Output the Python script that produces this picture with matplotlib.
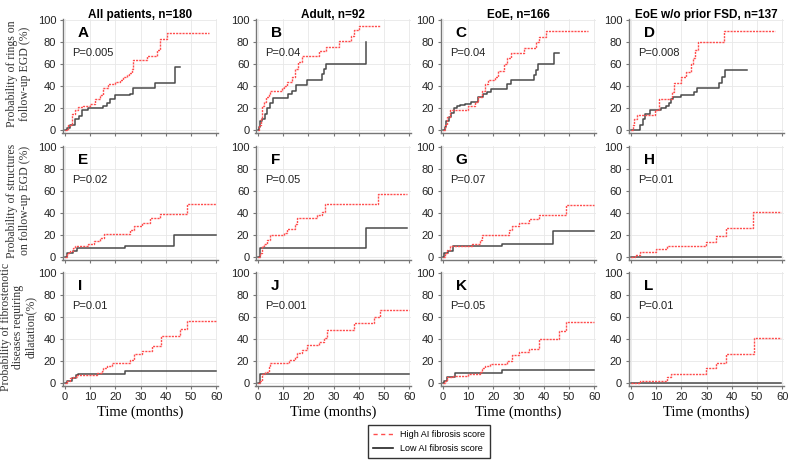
import matplotlib
matplotlib.use("Agg")
import matplotlib.pyplot as plt
from matplotlib.lines import Line2D

# column titles, panel letters and p-values
titles = ["All patients, n=180", "Adult, n=92", "EoE, n=166", "EoE w/o prior FSD, n=137"]
letters = ["A", "B", "C", "D", "E", "F", "G", "H", "I", "J", "K", "L"]
pvals = ["P=0.005", "P=0.04", "P=0.04", "P=0.008",
         "P=0.02", "P=0.05", "P=0.07", "P=0.01",
         "P=0.01", "P=0.001", "P=0.05", "P=0.01"]
row_labels = ["Probability of rings on\nfollow-up EGD (%)",
              "Probability of structures\non follow-up EGD (%)",
              "Probability of fibrostenotic\ndiseases requiring\ndilatation(%)"]

# row 1 : rings
A_hi_t = [0, 1.3, 2.6, 4, 5.3, 7, 10, 12, 14, 15, 17, 20, 22, 23, 24.5, 25.3, 26.5, 27, 32.5, 36.4, 37.7, 40.4, 57.3]
A_hi_v = [0, 5, 15, 18, 21, 22, 24, 28, 32, 38, 42, 44, 46, 48, 50, 52, 56, 64, 67, 73, 83, 88, 88]
A_lo_t = [0, 0.7, 2, 4, 5.7, 6.6, 9.3, 15, 16.6, 18, 20, 25.8, 26.9, 35.8, 43.7, 45.7]
A_lo_v = [0, 2, 5, 10, 13, 18, 20, 22, 25, 28, 32, 33, 38, 43, 57, 57]

B_hi_t = [0, 0.5, 1.2, 1.6, 2.5, 3.3, 4.2, 4.9, 9.5, 10.2, 11.5, 13.5, 14.8, 16, 17.5, 24, 26.8, 32, 36.7, 38, 40, 48.3]
B_hi_v = [0, 5, 10, 22, 26, 30, 33, 36, 38, 40, 44, 48, 56, 62, 67, 72, 76, 81, 86, 91, 95, 95]
B_lo_t = [0, 0.4, 0.9, 1.6, 2.9, 3.6, 4.6, 6, 12, 13.5, 15, 19.5, 25.4, 26, 27, 43, 43]
B_lo_v = [0, 3, 8, 10, 15, 20, 25, 29, 33, 36, 41, 46, 51, 56, 60, 80, 80]

C_hi_t = [0, 0.8, 1.6, 2.7, 10, 12.7, 14, 15.5, 16.8, 17.7, 20.7, 22, 24, 25.4, 26.8, 32, 36.8, 38.2, 40.8, 57.5]
C_hi_v = [0, 5, 12, 18, 22, 26, 30, 36, 42, 46, 48, 54, 60, 66, 70, 75, 80, 85, 90, 90]
C_lo_t = [0, 0.7, 1.3, 2.4, 3.3, 4.3, 5.4, 6.7, 8.7, 11, 14, 16, 17.3, 19, 25.2, 26.9, 36, 36.7, 37.7, 43.9, 46.2]
C_lo_v = [0, 3, 8, 12, 16, 20, 22, 23, 24, 26, 30, 33, 35, 37, 42, 46, 50, 55, 60, 70, 70]

D_hi_t = [0, 0.7, 1.3, 2.3, 9.4, 11, 16.4, 17, 19.7, 21.7, 23.8, 24.4, 25.5, 26.4, 36.8, 57]
D_hi_v = [0, 5, 10, 14, 18, 28, 35, 43, 48, 53, 60, 66, 73, 80, 90, 90]
D_lo_t = [0, 3, 3.6, 4.6, 5.6, 7.6, 11.7, 13.7, 15, 16, 16.8, 20, 25, 26.2, 35, 36, 37.4, 45.9]
D_lo_v = [0, 0, 5, 10, 15, 18, 20, 22, 25, 28, 30, 32, 35, 38, 43, 48, 55, 55]

# row 2 : strictures
E_hi_t = [0, 0.7, 2, 3, 4, 9.3, 11.3, 13.9, 15.5, 25.8, 27.2, 30.5, 33.8, 37.7, 48.3, 60]
E_hi_v = [0, 3, 5, 8, 10, 12, 14, 17, 21, 24, 28, 31, 35, 39, 48, 48]
E_lo_t = [0, 0.7, 3, 4.6, 23.8, 43.4, 60]
E_lo_v = [0, 3, 5, 8, 10, 20, 20]

F_hi_t = [0, 0.7, 1.6, 2.3, 3.6, 4.6, 10.2, 11.5, 14.8, 15.5, 23.4, 25.4, 26.7, 47.8, 59]
F_hi_v = [0, 3, 10, 12, 15, 20, 22, 25, 30, 35, 38, 41, 48, 57, 57]
F_lo_t = [0, 0.7, 43, 59]
F_lo_v = [0, 8, 26, 26]

G_hi_t = [0, 0.7, 1.6, 2.7, 11.4, 14.7, 15.4, 26, 27.4, 30.1, 34.1, 38.1, 48.9, 60]
G_hi_v = [0, 3, 6, 10, 12, 15, 20, 24, 28, 31, 34, 38, 47, 47]
G_lo_t = [0, 0.4, 2, 4, 23.4, 43.8, 60]
G_lo_v = [0, 3, 5, 10, 12, 23, 23]

H_hi_t = [0, 1.6, 3.6, 10, 14.4, 29.7, 33.8, 37.6, 48.5, 59.7]
H_hi_v = [0, 2, 4, 7, 10, 13, 19, 26, 41, 41]
H_lo_t = [0, 59.7]
H_lo_v = [0, 0]

# row 3 : dilatation
I_hi_t = [0, 0.7, 2, 3.3, 4.6, 12.6, 14.5, 15.2, 16.6, 18.5, 25.8, 27.2, 30.5, 34.4, 38.1, 45.7, 48.3, 60]
I_hi_v = [0, 2, 4, 5, 7, 9, 11, 13, 15, 18, 21, 26, 29, 33, 42, 49, 56, 56]
I_lo_t = [0, 0.7, 2.6, 4.4, 5.3, 23.8, 60]
I_lo_v = [0, 2, 4, 7, 8, 11, 11]

J_hi_t = [0, 0.7, 1.6, 2.9, 4.2, 4.9, 12.2, 14.8, 15.5, 17.4, 19.4, 24, 26, 27.4, 38, 45.9, 48.5, 60]
J_hi_v = [0, 2, 8, 10, 14, 18, 21, 23, 27, 30, 34, 37, 41, 48, 54, 60, 66, 66]
J_lo_t = [0, 0.9, 60]
J_lo_v = [0, 8, 8]

K_hi_t = [0, 0.7, 1.6, 4, 10, 14.7, 15.4, 16.7, 18.7, 25.4, 27.4, 30.1, 34.1, 38.2, 46.2, 48.9, 60]
K_hi_v = [0, 2, 5, 6, 8, 10, 13, 15, 17, 20, 25, 28, 31, 40, 47, 55, 55]
K_lo_t = [0, 0.4, 1.6, 4.7, 23.4, 60]
K_lo_v = [0, 2, 5, 9, 12, 12]

L_hi_t = [0, 3.6, 14.1, 15.7, 29.8, 33.8, 37.6, 48.6, 59.7]
L_hi_v = [0, 2, 5, 8, 13, 18, 26, 41, 41]
L_lo_t = [0, 59.7]
L_lo_v = [0, 0]

panels = [
    (A_hi_t, A_hi_v, A_lo_t, A_lo_v), (B_hi_t, B_hi_v, B_lo_t, B_lo_v),
    (C_hi_t, C_hi_v, C_lo_t, C_lo_v), (D_hi_t, D_hi_v, D_lo_t, D_lo_v),
    (E_hi_t, E_hi_v, E_lo_t, E_lo_v), (F_hi_t, F_hi_v, F_lo_t, F_lo_v),
    (G_hi_t, G_hi_v, G_lo_t, G_lo_v), (H_hi_t, H_hi_v, H_lo_t, H_lo_v),
    (I_hi_t, I_hi_v, I_lo_t, I_lo_v), (J_hi_t, J_hi_v, J_lo_t, J_lo_v),
    (K_hi_t, K_hi_v, K_lo_t, K_lo_v), (L_hi_t, L_hi_v, L_lo_t, L_lo_v),
]

W, H = 788, 466
red = "#ff4d4d"
dark = "#4a4a4a"
sans = "Liberation Sans"
serif = "Liberation Serif"

fig = plt.figure(figsize=(W / 100, H / 100), dpi=100)

col_left = [62.5, 255.5, 440.5, 628.5]   # pixels
ax_w = 155
row_top = [19, 145.5, 271.5]
ax_h = 114

for i, (ht, hv, lt, lv) in enumerate(panels):
    r, c = divmod(i, 4)
    ax = fig.add_axes([col_left[c] / W, 1 - (row_top[r] + ax_h) / H, ax_w / W, ax_h / H])
    ax.step(lt, lv, where="post", color=dark, lw=1.1, zorder=3)
    ax.step(ht, hv, where="post", color=red, lw=1.0, ls=(0, (1.5, 0.8)), zorder=4)
    ax.set_xlim(-1, 60.5)
    ax.set_ylim(-2.5, 101)
    ax.set_xticks(range(0, 61, 10))
    ax.set_yticks(range(0, 101, 20))
    ax.grid(True, color="#e8e8e8", lw=0.6)
    for s in ["top", "right"]:
        ax.spines[s].set_visible(False)
    for s in ["left", "bottom"]:
        ax.spines[s].set_color("#777777")
        ax.spines[s].set_linewidth(1.0)
    ax.tick_params(length=2.5, width=0.8, color="#777777", labelsize=8, labelcolor="#222222", pad=2)
    for lab in ax.get_xticklabels() + ax.get_yticklabels():
        lab.set_family(sans)
    if r < 2:
        ax.tick_params(labelbottom=False)
    else:
        ax.set_xlabel("Time (months)", family=serif, fontsize=10.5, labelpad=3)
    ax.text(5, 88, letters[i], family=sans, fontsize=11, fontweight="bold", va="center")
    ax.text(3, 70, pvals[i], family=sans, fontsize=8, va="center", color="#222222")
    if r == 0:
        fig.text((col_left[c] + ax_w / 2) / W, 1 - 15 / H, titles[c], family=sans,
                 fontsize=8.5, fontweight="bold", ha="center", va="center")
    if c == 0:
        fig.text(18.5 / W, 1 - (row_top[r] + ax_h / 2 - 2) / H, row_labels[r], family=serif,
                 fontsize=8.5, rotation=90, ha="center", va="center", multialignment="center",
                 linespacing=1.1, color="#333333")

handles = [Line2D([], [], color=red, lw=1.0, ls=(0, (3, 2.5))),
           Line2D([], [], color="#222222", lw=1.2)]
leg = fig.legend(handles, ["High AI fibrosis score", "Low AI fibrosis score"],
                 loc="center", bbox_to_anchor=(429 / W, 1 - 441.5 / H),
                 prop={"family": sans, "size": 6.5}, frameon=True, fancybox=False,
                 handlelength=2.2, borderpad=0.6, labelspacing=0.5, borderaxespad=0)
leg.get_frame().set_edgecolor("black")
leg.get_frame().set_linewidth(1.0)

fig.savefig("out.png", dpi=100)
